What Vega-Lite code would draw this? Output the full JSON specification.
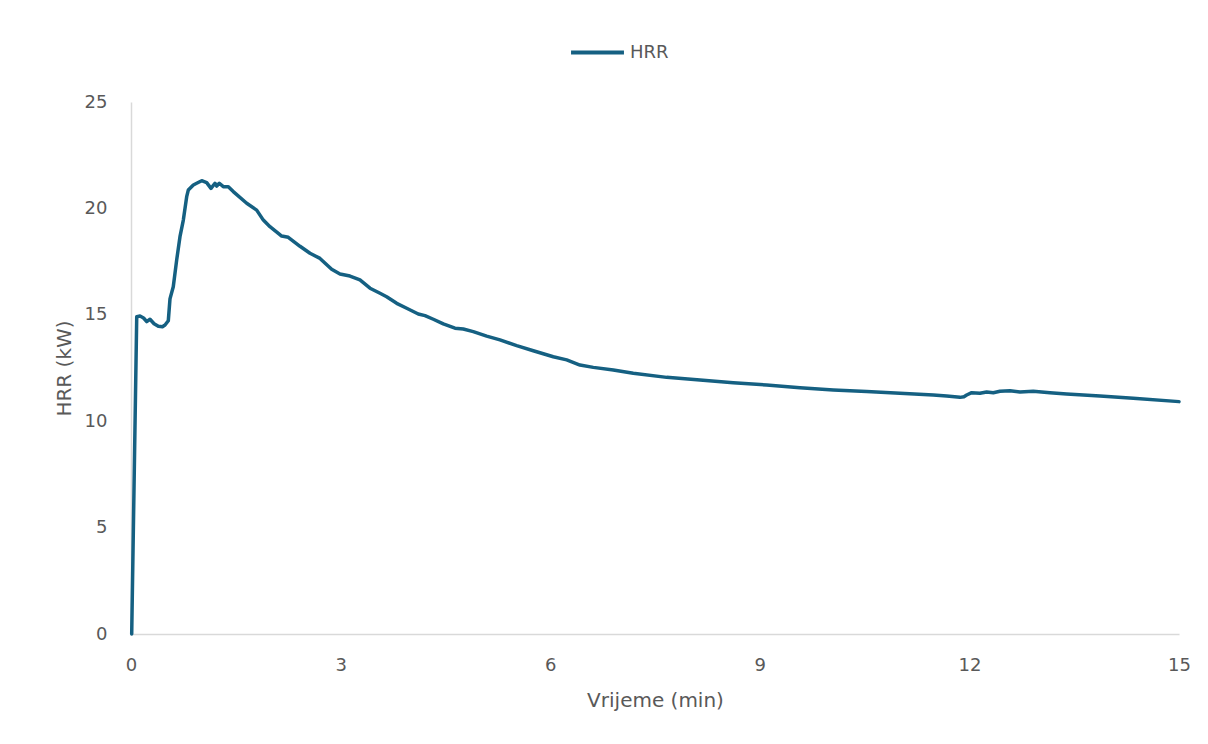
{
  "$schema": "https://vega.github.io/schema/vega-lite/v6.json",
  "autosize": "none",
  "width": 1048,
  "height": 532,
  "padding": {"left": 131, "top": 102, "right": 29, "bottom": 110},
  "background": "white",
  "config": {
    "view": {"stroke": null},
    "font": "DejaVu Sans",
    "axis": {"grid": false, "ticks": false, "domainColor": "#D9D9D9", "domainWidth": 1.5, "labelColor": "#595959", "titleColor": "#595959", "labelFontSize": 18, "titleFontSize": 20, "titleFontWeight": "normal", "labelFont": "DejaVu Sans", "titleFont": "DejaVu Sans"}
  },
  "data": {"values": [
    {"t": 0.01, "hrr": 0.0},
    {"t": 0.082, "hrr": 14.91},
    {"t": 0.129, "hrr": 14.94},
    {"t": 0.18, "hrr": 14.85},
    {"t": 0.225, "hrr": 14.68},
    {"t": 0.272, "hrr": 14.79},
    {"t": 0.33, "hrr": 14.58},
    {"t": 0.391, "hrr": 14.46},
    {"t": 0.45, "hrr": 14.44},
    {"t": 0.487, "hrr": 14.52},
    {"t": 0.534, "hrr": 14.72},
    {"t": 0.558, "hrr": 15.75},
    {"t": 0.605, "hrr": 16.32},
    {"t": 0.654, "hrr": 17.58},
    {"t": 0.701, "hrr": 18.67},
    {"t": 0.749, "hrr": 19.45},
    {"t": 0.797, "hrr": 20.55},
    {"t": 0.82, "hrr": 20.86},
    {"t": 0.892, "hrr": 21.1},
    {"t": 0.94, "hrr": 21.18},
    {"t": 1.012, "hrr": 21.3},
    {"t": 1.083, "hrr": 21.21},
    {"t": 1.145, "hrr": 20.94},
    {"t": 1.202, "hrr": 21.18},
    {"t": 1.227, "hrr": 21.05},
    {"t": 1.264, "hrr": 21.18},
    {"t": 1.321, "hrr": 21.02},
    {"t": 1.393, "hrr": 21.02},
    {"t": 1.464, "hrr": 20.79},
    {"t": 1.656, "hrr": 20.24},
    {"t": 1.799, "hrr": 19.92},
    {"t": 1.894, "hrr": 19.45},
    {"t": 1.989, "hrr": 19.14},
    {"t": 2.157, "hrr": 18.7},
    {"t": 2.251, "hrr": 18.64},
    {"t": 2.419, "hrr": 18.22},
    {"t": 2.562, "hrr": 17.89},
    {"t": 2.705, "hrr": 17.65},
    {"t": 2.872, "hrr": 17.14},
    {"t": 2.991, "hrr": 16.92},
    {"t": 3.134, "hrr": 16.82},
    {"t": 3.182, "hrr": 16.76},
    {"t": 3.277, "hrr": 16.64},
    {"t": 3.421, "hrr": 16.25},
    {"t": 3.564, "hrr": 16.01},
    {"t": 3.659, "hrr": 15.85},
    {"t": 3.803, "hrr": 15.54},
    {"t": 3.946, "hrr": 15.31},
    {"t": 4.112, "hrr": 15.04},
    {"t": 4.208, "hrr": 14.96},
    {"t": 4.327, "hrr": 14.79},
    {"t": 4.47, "hrr": 14.57},
    {"t": 4.637, "hrr": 14.37},
    {"t": 4.756, "hrr": 14.33},
    {"t": 4.899, "hrr": 14.21},
    {"t": 5.091, "hrr": 14.0},
    {"t": 5.281, "hrr": 13.82},
    {"t": 5.52, "hrr": 13.55},
    {"t": 5.758, "hrr": 13.31},
    {"t": 6.044, "hrr": 13.03},
    {"t": 6.236, "hrr": 12.88},
    {"t": 6.426, "hrr": 12.64},
    {"t": 6.617, "hrr": 12.53},
    {"t": 6.903, "hrr": 12.41},
    {"t": 7.189, "hrr": 12.25},
    {"t": 7.667, "hrr": 12.06},
    {"t": 8.144, "hrr": 11.94},
    {"t": 8.62, "hrr": 11.81},
    {"t": 9.098, "hrr": 11.7},
    {"t": 9.575, "hrr": 11.57},
    {"t": 10.052, "hrr": 11.47},
    {"t": 10.529, "hrr": 11.39},
    {"t": 11.006, "hrr": 11.31},
    {"t": 11.483, "hrr": 11.23},
    {"t": 11.675, "hrr": 11.18},
    {"t": 11.865, "hrr": 11.12},
    {"t": 11.922, "hrr": 11.15},
    {"t": 11.961, "hrr": 11.23},
    {"t": 12.033, "hrr": 11.34},
    {"t": 12.151, "hrr": 11.31},
    {"t": 12.247, "hrr": 11.37},
    {"t": 12.342, "hrr": 11.34},
    {"t": 12.437, "hrr": 11.41},
    {"t": 12.581, "hrr": 11.43},
    {"t": 12.724, "hrr": 11.37},
    {"t": 12.914, "hrr": 11.41},
    {"t": 13.153, "hrr": 11.34},
    {"t": 13.392, "hrr": 11.28},
    {"t": 13.869, "hrr": 11.18},
    {"t": 14.345, "hrr": 11.08},
    {"t": 15.0, "hrr": 10.92}
  ]},
  "mark": {"type": "line", "strokeWidth": 3.5, "strokeCap": "round", "strokeJoin": "round"},
  "encoding": {
    "x": {"field": "t", "type": "quantitative", "title": "Vrijeme (min)",
      "scale": {"domain": [0, 15], "nice": false, "zero": false},
      "axis": {"values": [0, 3, 6, 9, 12, 15], "labelPadding": 22, "titlePadding": 16, "labelFlush": false}},
    "y": {"field": "hrr", "type": "quantitative", "title": "HRR (kW)",
      "scale": {"domain": [0, 25], "nice": false},
      "axis": {"values": [0, 5, 10, 15, 20, 25], "labelPadding": 24, "titlePadding": 10}},
    "color": {"datum": "HRR", "type": "nominal", "scale": {"range": ["#156082"]},
      "legend": {"title": null, "orient": "none", "legendX": 438, "legendY": -78, "symbolType": "stroke", "symbolSize": 2800, "symbolStrokeWidth": 4, "labelFontSize": 18, "labelColor": "#595959", "labelFont": "DejaVu Sans"}}
  }
}
